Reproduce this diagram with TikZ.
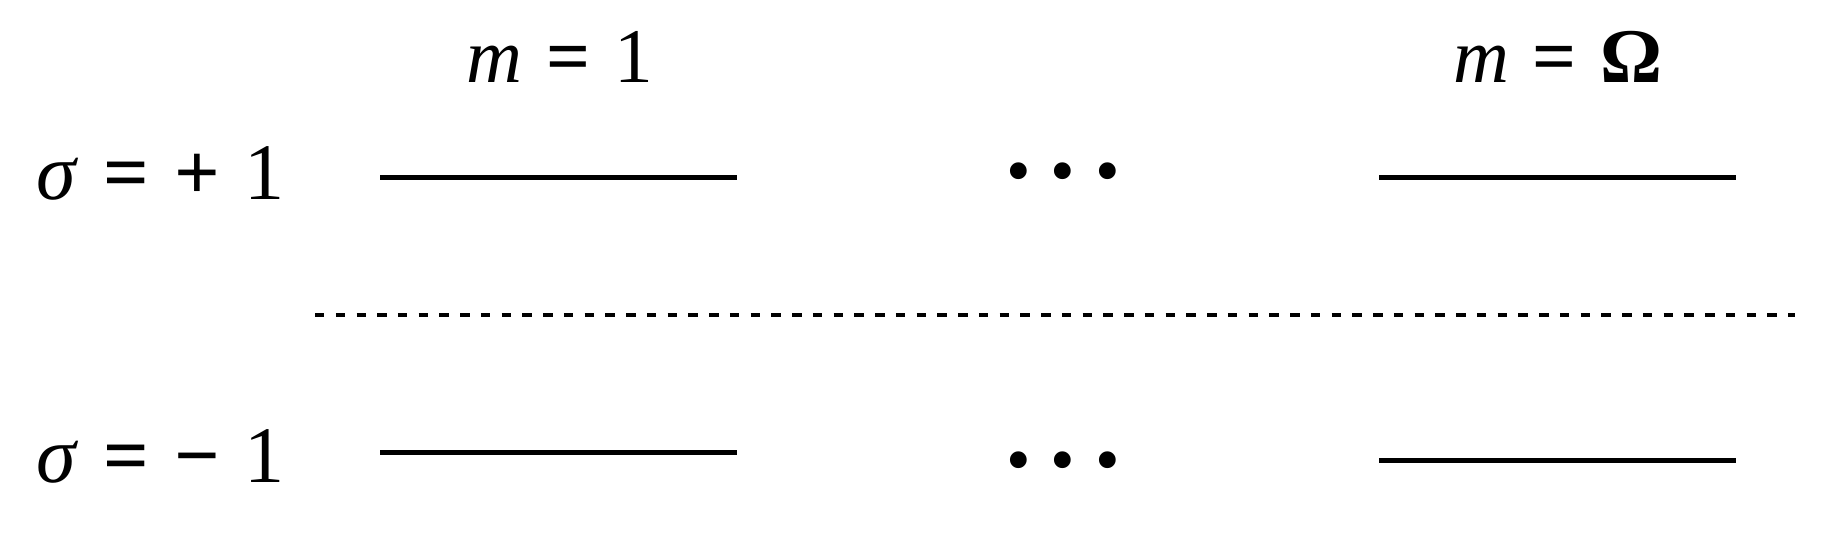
\documentclass[tikz,border=0pt]{standalone}
\usepackage{fontspec}
\setmainfont{Liberation Serif}
\usetikzlibrary{positioning}
\tikzset{
  level/.style={line width=1.42pt, draw=black},
  gap/.style={line width=1.35pt, draw=black, dash pattern=on 2.7pt off 3.2pt},
  spin/.style={font=\fontsize{22.8}{27}\selectfont, inner sep=0pt, anchor=base west},
  state/.style={font=\fontsize{22}{26}\selectfont, inner sep=0pt, anchor=base},
  dots/.style={font=\fontsize{20}{24}\selectfont, inner sep=0pt},
}
\newcommand{\sep}{\hspace{0.31em}}
\newcommand{\op}[1]{\textbf{#1}}
\newcommand{\threedots}{•\hspace{0.2cm}•\hspace{0.2cm}•}
\begin{document}
\begin{tikzpicture}[x=0.01cm,y=-0.01cm]
  \useasboundingbox (0,0) rectangle (1842,542);

  % column labels
  \node[state] (mOne) at (560,82) {\textit{m}\sep\op{=}\sep1};
  \node[state] (mOmega) at (1558,82) {\textit{m}\sep\op{=}\sep\textbf{Ω}};

  % row labels
  \node[spin] (sUp) at (36,199) {\textit{σ}\sep\op{=}\sep\op{+}\sep1};
  \node[spin] (sDown) at (36,482) {\textit{σ}\sep\op{=}\sep\op{−}\sep1};

  % upper levels
  \draw[level] (380,177.5) -- (737,177.5);
  \draw[level] (1379,177.5) -- (1736,177.5);
  \node[dots] (dUp) at (1063,179) {\threedots};

  % gap
  \draw[gap] (315,315) -- (1795,315);

  % lower levels
  \draw[level] (380,452) -- (737,452);
  \draw[level] (1379,460) -- (1736,460);
  \node[dots] (dDown) at (1063,468) {\threedots};
\end{tikzpicture}
\end{document}
